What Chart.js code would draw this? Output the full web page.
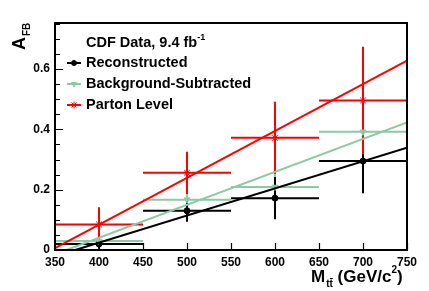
<!DOCTYPE html>
<html>
<head>
<meta charset="utf-8">
<script src="https://cdn.jsdelivr.net/npm/chart.js@4.4.0/dist/chart.umd.min.js"></script>
<style>
  body { margin: 0; background: #fff; }
  #wrap { width: 429px; height: 291px; }
</style>
</head>
<body>
<div id="wrap"><canvas id="afbChart" width="429" height="291"></canvas></div>
<script>
// bin centres and half widths (GeV/c^2)
var massBins = [400, 500, 600, 700];
var binHalfWidth = [50, 50, 50, 50];

var recoValues = [0.02, 0.13, 0.172, 0.295];
var recoErrors = [0.016, 0.036, 0.07, 0.107];

var bkgSubValues = [0.03, 0.167, 0.209, 0.392];
var bkgSubErrors = [0.03, 0.05, 0.1, 0.13];

var partonValues = [0.085, 0.256, 0.372, 0.496];
var partonErrors = [0.057, 0.07, 0.12, 0.178];

// linear fit end points (x, y)
var recoFitX = [373, 750];
var recoFitY = [0, 0.339];
var bkgSubFitX = [363, 750];
var bkgSubFitY = [0, 0.423];
var partonFitX = [350, 750];
var partonFitY = [0.006, 0.628];

var xTicks = [350, 400, 450, 500, 550, 600, 650, 700, 750];
var yTicks = [0, 0.2, 0.4, 0.6];

var BLACK = "#000000";
var GREEN = "#8dc9a5";
var RED = "#ff0000";
var FONT = "'Liberation Sans', Arial, sans-serif";

function toPoints(xs, ys) {
  return xs.map(function (x, i) { return { x: x, y: ys[i] }; });
}

var series = [
  { label: "Background-Subtracted", color: GREEN, vals: bkgSubValues, errs: bkgSubErrors },
  { label: "Reconstructed", color: BLACK, vals: recoValues, errs: recoErrors },
  { label: "Parton Level", color: RED, vals: partonValues, errs: partonErrors }
];

// error bars, drawn under the markers
var errorBars = {
  id: "errorBars",
  beforeDatasetsDraw: function (chart) {
    var ctx = chart.ctx, xs = chart.scales.x, ys = chart.scales.y, a = chart.chartArea;
    ctx.save();
    ctx.beginPath();
    ctx.rect(a.left, a.top, a.right - a.left, a.bottom - a.top);
    ctx.clip();
    ctx.lineWidth = 2;
    series.forEach(function (s) {
      ctx.strokeStyle = s.color;
      massBins.forEach(function (m, i) {
        var px = xs.getPixelForValue(m);
        var py = ys.getPixelForValue(s.vals[i]);
        ctx.beginPath();
        ctx.moveTo(xs.getPixelForValue(m - binHalfWidth[i]), py);
        ctx.lineTo(xs.getPixelForValue(m + binHalfWidth[i]), py);
        ctx.moveTo(px, ys.getPixelForValue(s.vals[i] - s.errs[i]));
        ctx.lineTo(px, ys.getPixelForValue(s.vals[i] + s.errs[i]));
        ctx.stroke();
      });
    });
    ctx.restore();
  }
};

// frame, inward ticks, axis titles and the legend box
var decorations = {
  id: "decorations",
  afterDraw: function (chart) {
    var ctx = chart.ctx, xs = chart.scales.x, ys = chart.scales.y, a = chart.chartArea;
    ctx.save();
    ctx.strokeStyle = BLACK;
    ctx.lineWidth = 2;
    ctx.strokeRect(a.left, a.top, a.right - a.left, a.bottom - a.top);

    ctx.lineWidth = 1.2;
    ctx.beginPath();
    xTicks.forEach(function (t) {
      var px = Math.round(xs.getPixelForValue(t)) + 0.5;
      ctx.moveTo(px, a.bottom);
      ctx.lineTo(px, a.bottom - 7);
    });
    for (var v = 0; v <= 0.75001; v += 0.05) {
      var py = Math.round(ys.getPixelForValue(v)) + 0.5;
      var major = Math.abs(v / 0.2 - Math.round(v / 0.2)) < 0.001;
      ctx.moveTo(a.left, py);
      ctx.lineTo(a.left + (major ? 8 : 5), py);
    }
    ctx.stroke();

    // y title A_FB
    ctx.fillStyle = BLACK;
    ctx.save();
    ctx.translate(25, 50);
    ctx.rotate(-Math.PI / 2);
    ctx.textBaseline = "alphabetic";
    ctx.font = "bold 18px " + FONT;
    ctx.fillText("A", 0, 0);
    var aw = ctx.measureText("A").width;
    ctx.font = "bold 10px " + FONT;
    ctx.fillText("FB", aw + 1, 5);
    ctx.restore();

    // x title M_tt (GeV/c^2)
    var bx = 311, by = 282;
    ctx.font = "bold 17px " + FONT;
    ctx.fillText("M", bx, by);
    bx += ctx.measureText("M").width + 1;
    ctx.font = "bold 10px " + FONT;
    ctx.fillText("tt", bx, by + 5);
    var tw = ctx.measureText("t").width;
    ctx.lineWidth = 1;
    ctx.beginPath();
    ctx.moveTo(bx + tw + 0.5, by - 3.5);
    ctx.lineTo(bx + 2 * tw, by - 3.5);
    ctx.stroke();
    bx += ctx.measureText("tt").width;
    ctx.font = "bold 17px " + FONT;
    ctx.fillText(" (GeV/c", bx, by);
    bx += ctx.measureText(" (GeV/c").width;
    ctx.font = "bold 10px " + FONT;
    ctx.fillText("2", bx, by - 9);
    bx += ctx.measureText("2").width;
    ctx.font = "bold 17px " + FONT;
    ctx.fillText(")", bx, by);

    // legend
    ctx.textBaseline = "middle";
    ctx.font = "bold 14.5px " + FONT;
    ctx.fillText("CDF Data, 9.4 fb", 86, 43);
    var hw = ctx.measureText("CDF Data, 9.4 fb").width;
    ctx.font = "bold 9px " + FONT;
    ctx.fillText("-1", 86 + hw, 38);

    var rows = [
      { label: "Reconstructed", color: BLACK, y: 63, style: "circle", r: 2.5 },
      { label: "Background-Subtracted", color: GREEN, y: 84, style: "triangle", r: 3 },
      { label: "Parton Level", color: RED, y: 105, style: "star", r: 3.5 }
    ];
    rows.forEach(function (r) {
      ctx.strokeStyle = r.color;
      ctx.fillStyle = r.color;
      ctx.lineWidth = 2;
      ctx.beginPath();
      ctx.moveTo(67, r.y);
      ctx.lineTo(81, r.y);
      ctx.stroke();
      ctx.lineWidth = 1;
      Chart.helpers.drawPoint(ctx, {
        pointStyle: r.style,
        radius: r.r,
        rotation: r.style === "triangle" ? 180 : 0,
        borderWidth: 1
      }, 74, r.y);
      ctx.fillStyle = BLACK;
      ctx.font = "bold 14.5px " + FONT;
      ctx.fillText(r.label, 86, r.y);
    });
    ctx.restore();
  }
};

function markerSet(label, vals, color, style, rot, radius) {
  return {
    type: "scatter",
    label: label,
    data: toPoints(massBins, vals),
    pointStyle: style,
    rotation: rot,
    pointRadius: radius,
    pointBackgroundColor: color,
    pointBorderColor: color,
    pointBorderWidth: 1,
    showLine: false
  };
}

function fitSet(label, xs, ys, color) {
  return {
    type: "line",
    label: label,
    data: toPoints(xs, ys),
    borderColor: color,
    borderWidth: 2,
    pointRadius: 0,
    fill: false
  };
}

var ctxAfb = document.getElementById("afbChart").getContext("2d");
var afbChart = new Chart(ctxAfb, {
  data: {
    datasets: [
      fitSet("Background-Subtracted fit", bkgSubFitX, bkgSubFitY, GREEN),
      fitSet("Reconstructed fit", recoFitX, recoFitY, BLACK),
      fitSet("Parton Level fit", partonFitX, partonFitY, RED),
      markerSet("Background-Subtracted", bkgSubValues, GREEN, "triangle", 180, 3.5),
      markerSet("Reconstructed", recoValues, BLACK, "circle", 0, 3),
      markerSet("Parton Level", partonValues, RED, "star", 0, 4)
    ]
  },
  options: {
    responsive: false,
    animation: false,
    layout: { padding: { left: 0, top: 23, right: 22, bottom: 0 } },
    plugins: { legend: { display: false }, tooltip: { enabled: false } },
    scales: {
      x: {
        type: "linear",
        min: 350,
        max: 750,
        afterFit: function (s) { s.height = 41; },
        afterBuildTicks: function (s) { s.ticks = xTicks.map(function (v) { return { value: v }; }); },
        grid: { display: false, drawTicks: false },
        border: { display: false },
        ticks: {
          autoSkip: false,
          maxRotation: 0,
          padding: 5,
          color: BLACK,
          font: { family: FONT, size: 12, weight: "bold" }
        }
      },
      y: {
        type: "linear",
        min: 0,
        max: 0.753,
        afterFit: function (s) { s.width = 55; },
        afterBuildTicks: function (s) { s.ticks = yTicks.map(function (v) { return { value: v }; }); },
        grid: { display: false, drawTicks: false },
        border: { display: false },
        ticks: {
          padding: 5,
          color: BLACK,
          font: { family: FONT, size: 12, weight: "bold" },
          callback: function (v) { return v === 0 ? "0" : v.toFixed(1); }
        }
      }
    }
  },
  plugins: [errorBars, decorations]
});
</script>
</body>
</html>
